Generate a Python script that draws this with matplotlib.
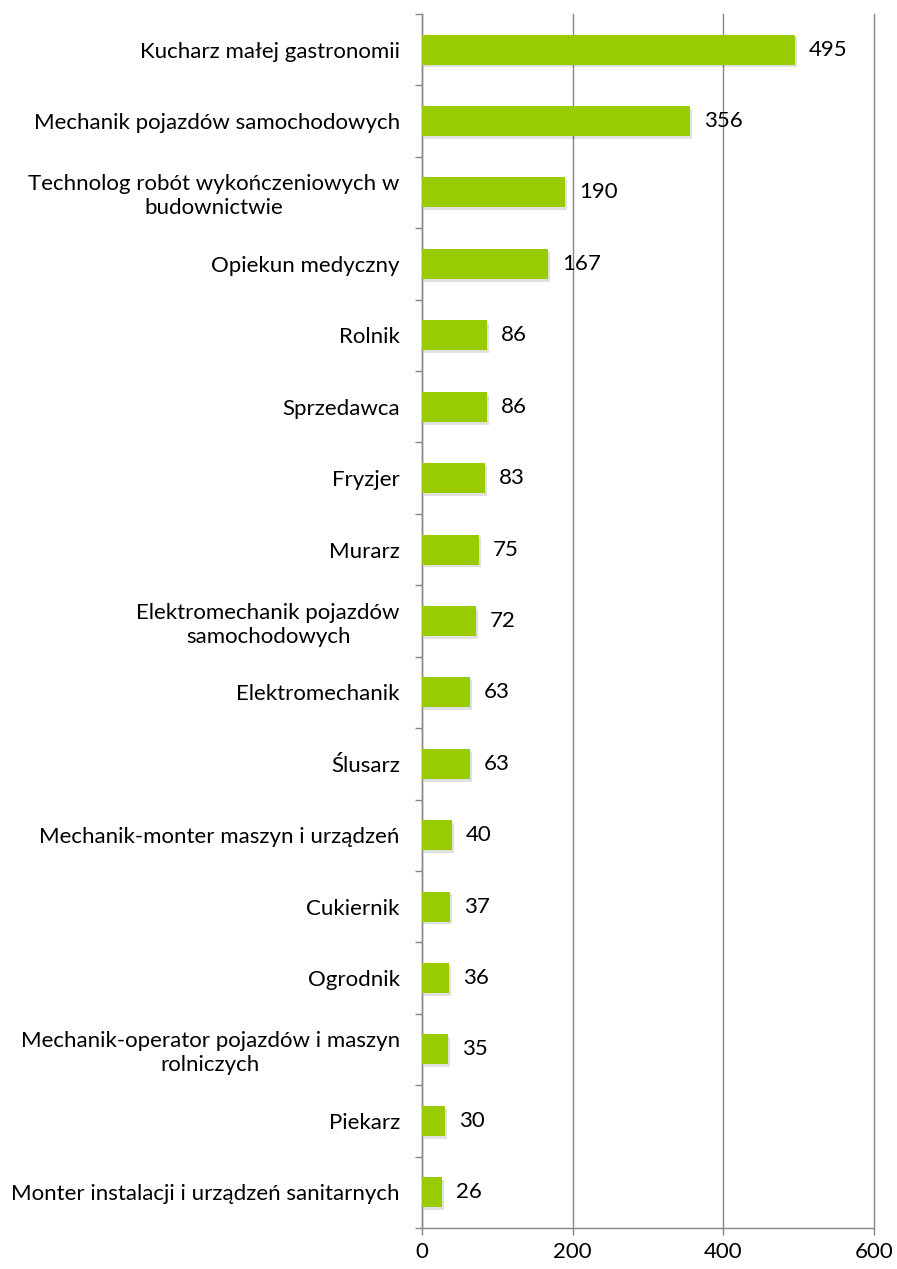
import matplotlib
matplotlib.use("Agg")
import matplotlib.pyplot as plt
import matplotlib.patheffects as pe
import numpy as np

plt.rcParams['font.family'] = ['Lato', 'DejaVu Sans']

# occupations, top to bottom
zawody = [
    "Kucharz małej gastronomii",
    "Mechanik pojazdów samochodowych",
    "Technolog robót wykończeniowych w\nbudownictwie",
    "Opiekun medyczny",
    "Rolnik",
    "Sprzedawca",
    "Fryzjer",
    "Murarz",
    "Elektromechanik pojazdów\nsamochodowych",
    "Elektromechanik",
    "Ślusarz",
    "Mechanik-monter maszyn i urządzeń",
    "Cukiernik",
    "Ogrodnik",
    "Mechanik-operator pojazdów i maszyn\nrolniczych",
    "Piekarz",
    "Monter instalacji i urządzeń sanitarnych",
]
liczba = [495, 356, 190, 167, 86, 86, 83, 75, 72, 63, 63, 40, 37, 36, 35, 30, 26]
x_ticks = [0, 200, 400, 600]

GREEN = "#99cc00"
GREY = "#868686"
FS = 16

fig = plt.figure(figsize=(8.97, 12.69), dpi=100)
ax = fig.add_axes([0.4705, 0.0323, 0.504, 0.9567])

y = np.arange(len(zawody))
bars = ax.barh(y, liczba, height=0.42, color=GREEN, zorder=3)
for b in bars:
    b.set_path_effects([pe.SimplePatchShadow(offset=(1.5, -2), shadow_rgbFace="#000000", alpha=0.12),
                        pe.Normal()])

for yi, v in zip(y, liczba):
    ax.annotate(str(v), (v, yi), xytext=(10, 0), textcoords="offset points",
                va="center", ha="left", fontsize=FS)

ax.set_xlim(0, 600)
ax.set_ylim(len(zawody) - 0.5, -0.5)
ax.set_xticks(x_ticks)
ax.set_xticklabels([str(t) for t in x_ticks], fontsize=FS)
ax.set_yticks(y)
ax.set_yticklabels(zawody, fontsize=FS, multialignment="center", linespacing=1.25)
ax.tick_params(axis="y", which="major", length=0, pad=16)
ax.set_yticks(np.arange(len(zawody) + 1) - 0.5, minor=True)
ax.tick_params(axis="y", which="minor", length=5, color=GREY, width=1)
ax.tick_params(axis="x", length=5, color=GREY, width=1, pad=5)

ax.grid(axis="x", color=GREY, linewidth=1, zorder=0)
for gl in ax.get_xgridlines():
    gl.set_clip_on(False)
for s in ["top", "right"]:
    ax.spines[s].set_visible(False)
for s in ["left", "bottom"]:
    ax.spines[s].set_color(GREY)
    ax.spines[s].set_linewidth(1)

fig.savefig("out.png", dpi=100)
